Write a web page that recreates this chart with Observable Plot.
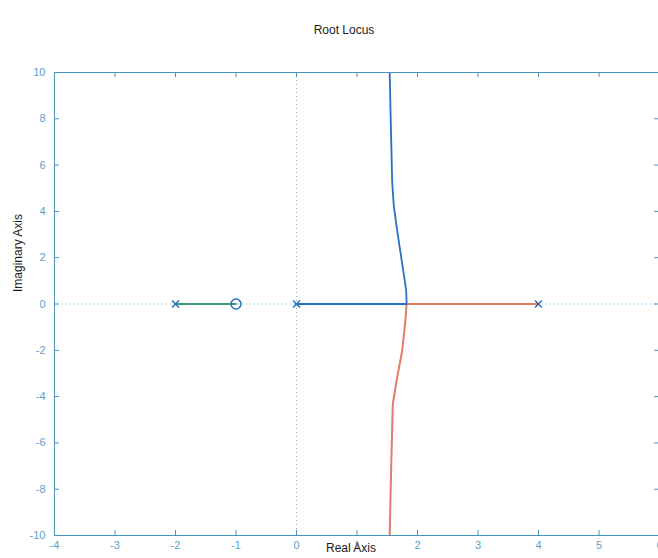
<!DOCTYPE html>
<html>
<head>
<meta charset="utf-8">
<script src="https://cdn.jsdelivr.net/npm/d3@7"></script>
<script src="https://cdn.jsdelivr.net/npm/@observablehq/plot@0.6"></script>
<style>
  html, body { margin: 0; padding: 0; background: #fff; }
  #chart svg { display: block; }
</style>
</head>
<body>
<div id="chart"></div>
<script>
// Tick values
const xTicks = [-4, -3, -2, -1, 0, 1, 2, 3, 4, 5, 6];
const yTicks = [-10, -8, -6, -4, -2, 0, 2, 4, 6, 8, 10];

// Branch 1 (blue): pole at 0 -> breakaway -> upward asymptote
const blueRe = [0, 1.82, 1.813, 1.79, 1.747, 1.664, 1.608, 1.582, 1.565, 1.54];
const blueIm = [0, 0, 0.57, 1.0, 1.74, 3.17, 4.25, 5.24, 7.10, 10.0];

// Branch 2 (red): pole at 4 -> breakaway -> downward asymptote
const redRe = [4, 1.82, 1.80, 1.747, 1.664, 1.592, 1.565, 1.54];
const redIm = [0, 0, -0.72, -2.02, -3.17, -4.32, -7.06, -10.0];

// Branch 3 (green): pole at -2 -> zero at -1
const greenRe = [-2, -1];
const greenIm = [0, 0];

// Open-loop poles and zeros
const polesRe = [-2, 0, 4];
const polesIm = [0, 0, 0];
const zerosRe = [-1];
const zerosIm = [0];

const zip = (re, im) => re.map((r, i) => ({re: r, im: im[i]}));
const blue = zip(blueRe, blueIm);
const red = zip(redRe, redIm);
const green = zip(greenRe, greenIm);
const poles = zip(polesRe, polesIm);
const zeros = zip(zerosRe, zerosIm);

const axisColor = "#4a93bb";
const labelColor = "#5d9ec8";
const dotColor = "#72b2da";
const fmt = d => String(d);

const chart = Plot.plot({
  width: 658,
  height: 558,
  marginLeft: 54,
  marginRight: -1,
  marginTop: 72,
  marginBottom: 23,
  style: {fontFamily: "'Liberation Sans', Arial, sans-serif", background: "#fff"},
  x: {domain: [-4, 6]},
  y: {domain: [-10, 10]},
  marks: [
    // dotted zero lines
    Plot.ruleX([0], {stroke: dotColor, strokeWidth: 1, strokeDasharray: "1,3"}),
    Plot.ruleY([0], {stroke: dotColor, strokeWidth: 1, strokeDasharray: "1,3"}),
    // locus branches
    Plot.line(green, {x: "re", y: "im", stroke: "#3f9c80", strokeWidth: 1.8}),
    Plot.line(red, {x: "re", y: "im", stroke: "#e27c62", strokeWidth: 2, clip: true}),
    Plot.line(blue, {x: "re", y: "im", stroke: "#2b6fc2", strokeWidth: 1.8, clip: true}),
    // poles & zeros
    Plot.dot(poles, {x: "re", y: "im", symbol: "times", r: 3.2, stroke: "#2b6fc2", strokeWidth: 1.5}),
    Plot.dot(zeros, {x: "re", y: "im", symbol: "circle", r: 5, stroke: "#2b6fc2", strokeWidth: 1.5, fill: "none"}),
    // inward ticks (bottom/top/left/right)
    Plot.ruleX(xTicks, {x: d => d, y1: -10, y2: -10 + 5 / 23.15, stroke: axisColor}),
    Plot.ruleX(xTicks, {x: d => d, y1: 10, y2: 10 - 5 / 23.15, stroke: axisColor}),
    Plot.ruleY(yTicks, {y: d => d, x1: -4, x2: -4 + 5 / 60.5, stroke: axisColor}),
    Plot.ruleY(yTicks, {y: d => d, x1: 6, x2: 6 - 5 / 60.5, stroke: axisColor}),
    Plot.frame({stroke: axisColor, strokeWidth: 1}),
    // tick labels
    Plot.axisX({anchor: "bottom", ticks: xTicks, tickFormat: fmt, tickSize: 0, tickPadding: 6, fontSize: 11, color: labelColor, label: null}),
    Plot.axisY({anchor: "left", ticks: yTicks, tickFormat: fmt, tickSize: 0, tickPadding: 9, fontSize: 11, color: labelColor, label: null}),
    // titles
    Plot.text(["Root Locus"], {frameAnchor: "top", dy: -47, dx: -13, fontSize: 12, fill: "#1a1a1a"}),
    Plot.text(["Real Axis"], {frameAnchor: "bottom", dy: 16, dx: -6, fontSize: 12, fill: "#1a1a1a"}),
    Plot.text(["Imaginary Axis"], {frameAnchor: "left", rotate: -90, dx: -36, dy: -12, fontSize: 12, fill: "#1a1a1a"})
  ]
});
document.getElementById("chart").appendChild(chart);
</script>
</body>
</html>
